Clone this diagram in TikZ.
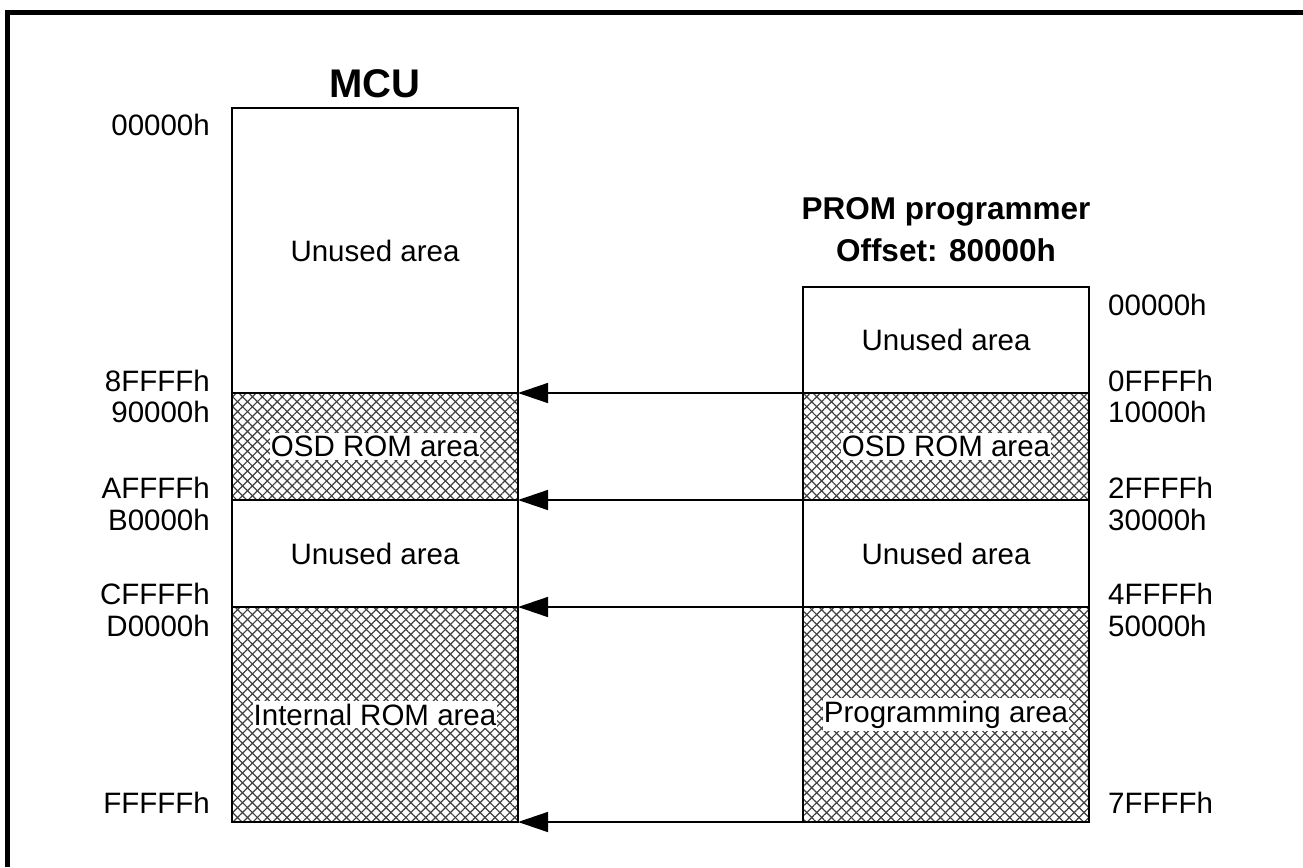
\documentclass[tikz,border=0pt]{standalone}
\usepackage{fontspec}
\setmainfont{Liberation Sans}
\usetikzlibrary{arrows.meta,patterns.meta}
\begin{document}
\begin{tikzpicture}[x=1pt,y=-1pt,
  txt/.style={font=\fontsize{29.5}{34}\selectfont, inner sep=0pt},
  ttl/.style={font=\fontsize{31.5}{36}\selectfont\bfseries, inner sep=0pt, align=center},
  region/.style={draw=black, line width=1.5pt, outer sep=0pt, inner sep=0pt, minimum width=286pt},
  hatch/.style={region,
    preaction={pattern={Lines[angle=45,distance=7pt,line width=1.2pt]}, pattern color=black!75},
    pattern={Lines[angle=-45,distance=7pt,line width=1.2pt]}, pattern color=black!75},
  wlbl/.style={txt, fill=white, inner xsep=1pt, inner ysep=3pt},
  arr/.style={line width=1.5pt, -{Triangle[length=30pt,width=20pt]}}
]
\useasboundingbox (0,0) rectangle (1303,867);
% frame (top and left only)
\draw[line width=5pt] (7.5,867) -- (7.5,12.5) -- (1303,12.5);

% MCU regions
\node[region, minimum height=285pt] (m1) at (375,250.5) {};
\node[hatch, minimum height=107pt] (m2) at (375,446.5) {};
\node[region, minimum height=107pt] (m3) at (375,553.5) {};
\node[hatch, minimum height=215pt] (m4) at (375,714.5) {};
% PROM regions
\node[region, minimum height=106pt] (p1) at (946,340) {};
\node[hatch, minimum height=107pt] (p2) at (946,446.5) {};
\node[region, minimum height=107pt] (p3) at (946,553.5) {};
\node[hatch, minimum height=215pt] (p4) at (946,714.5) {};

% region labels
\node[txt] (m1t) at (m1) {Unused area};
\node[wlbl] (m2t) at (m2) {OSD ROM area};
\node[txt] (m3t) at (m3) {Unused area};
\node[wlbl] (m4t) at (m4) {Internal ROM area};
\node[txt] (p1t) at (p1) {Unused area};
\node[wlbl] (p2t) at (p2) {OSD ROM area};
\node[txt] (p3t) at (p3) {Unused area};
\node[wlbl] (p4t) at (p4) {Programming area};

% titles
\node[ttl, font=\fontsize{40}{44}\selectfont\bfseries] (mcu) at (375,84) {MCU};
\node[ttl] (prog) at (946,212) {PROM programmer};
\node[ttl] (off) at (946,250) {Offset: 80000h};

% left addresses
\node[txt, anchor=east] (a1) at (210,125) {00000h};
\node[txt, anchor=east] (a2) at (210,381) {8FFFFh};
\node[txt, anchor=east] (a3) at (210,412) {90000h};
\node[txt, anchor=east] (a4) at (210,488) {AFFFFh};
\node[txt, anchor=east] (a5) at (210,520) {B0000h};
\node[txt, anchor=east] (a6) at (210,594) {CFFFFh};
\node[txt, anchor=east] (a7) at (210,626) {D0000h};
\node[txt, anchor=east] (a8) at (210,803) {FFFFFh};
% right addresses
\node[txt, anchor=west] (b1) at (1108,305) {00000h};
\node[txt, anchor=west] (b2) at (1108,381) {0FFFFh};
\node[txt, anchor=west] (b3) at (1108,412) {10000h};
\node[txt, anchor=west] (b4) at (1108,488) {2FFFFh};
\node[txt, anchor=west] (b5) at (1108,520) {30000h};
\node[txt, anchor=west] (b6) at (1108,594) {4FFFFh};
\node[txt, anchor=west] (b7) at (1108,626) {50000h};
\node[txt, anchor=west] (b8) at (1108,803) {7FFFFh};

% arrows
\draw[arr] (p2.north west) -- (m2.north east);
\draw[arr] (p3.north west) -- (m3.north east);
\draw[arr] (p4.north west) -- (m4.north east);
\draw[arr] (p4.south west) -- (m4.south east);
\end{tikzpicture}
\end{document}
